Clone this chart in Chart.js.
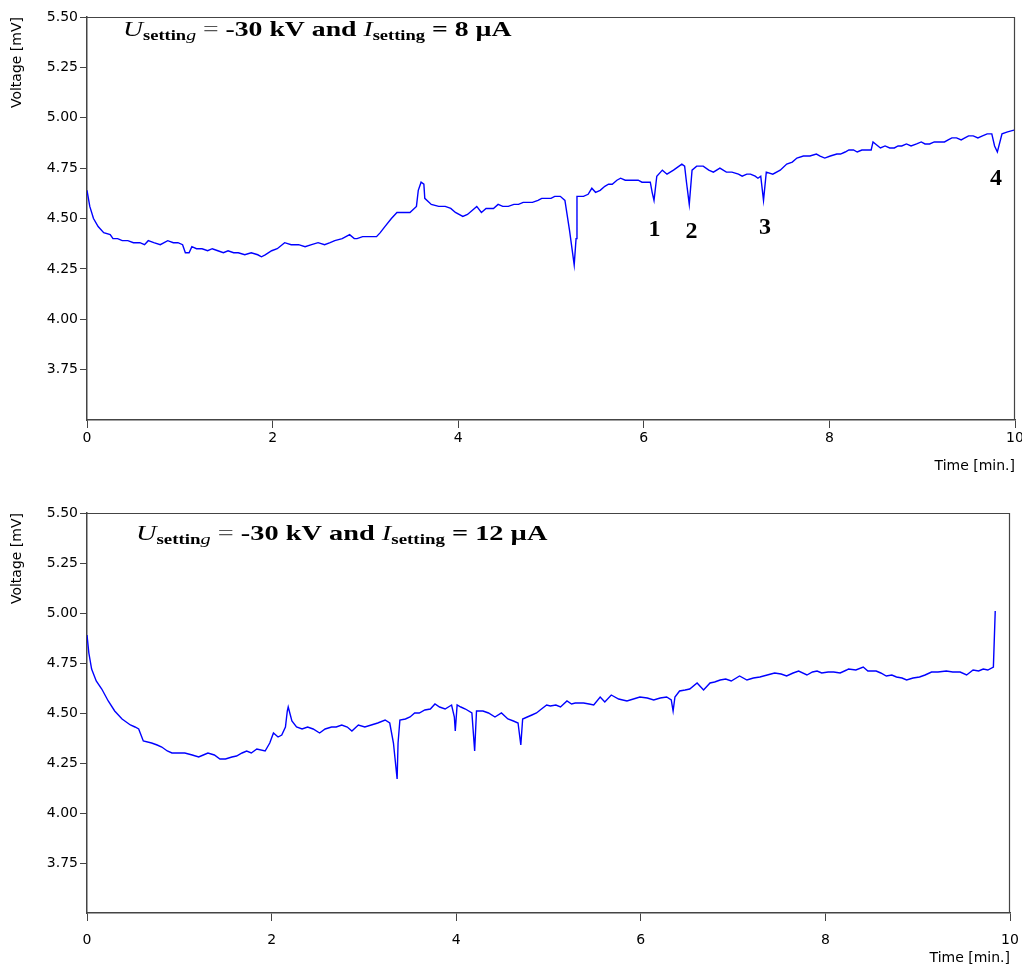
<!DOCTYPE html>
<html>
<head>
<meta charset="utf-8">
<script src="https://cdn.jsdelivr.net/npm/chart.js@4.4.0/dist/chart.umd.min.js"></script>
<style>
    html, body { margin: 0; padding: 0; background: #fff; }
    .box { position: absolute; left: 0; width: 1022px; }
    #top { top: 0; height: 483px; }
    #bot { top: 483px; height: 484px; }
</style>
</head>
<body>
<div class="box" id="top"><canvas id="c1"></canvas></div>
<div class="box" id="bot"><canvas id="c2"></canvas></div>
<script>
// time [min.] and voltage [mV], one row per minute
const time8 = [
    0.00, 0.03, 0.07, 0.12, 0.18, 0.25, 0.28, 0.33, 0.38, 0.44, 0.50, 0.57, 0.62, 0.66, 0.72, 0.79, 0.87, 0.93, 0.98,
    1.03, 1.06, 1.10, 1.13, 1.18, 1.24, 1.30, 1.35, 1.41, 1.47, 1.52, 1.58, 1.63, 1.70, 1.77, 1.84, 1.88, 1.92, 1.99,
    2.05, 2.13, 2.20, 2.28, 2.35, 2.42, 2.49, 2.56, 2.62, 2.67, 2.75, 2.83, 2.88, 2.91, 2.97,
    3.03, 3.12, 3.16, 3.21, 3.28, 3.34, 3.41, 3.48, 3.55, 3.57, 3.60, 3.63, 3.64, 3.71, 3.79, 3.86, 3.92, 3.97,
    4.05, 4.10, 4.15, 4.20, 4.25, 4.30, 4.38, 4.43, 4.48, 4.54, 4.60, 4.65, 4.70, 4.75, 4.80, 4.86, 4.90, 4.95,
    5.00, 5.04, 5.10, 5.15, 5.20, 5.25, 5.27, 5.28, 5.35, 5.40, 5.44, 5.48, 5.53, 5.58, 5.62, 5.66, 5.71, 5.75, 5.80, 5.85, 5.89, 5.94, 5.98,
    6.02, 6.07, 6.09, 6.11, 6.14, 6.20, 6.25, 6.32, 6.41, 6.44, 6.46, 6.49, 6.52, 6.57, 6.64, 6.70, 6.75, 6.82, 6.89, 6.95,
    7.02, 7.06, 7.11, 7.15, 7.20, 7.23, 7.26, 7.29, 7.32, 7.39, 7.47, 7.54, 7.60, 7.65, 7.72, 7.79, 7.86, 7.90, 7.95,
    8.01, 8.08, 8.12, 8.17, 8.21, 8.26, 8.30, 8.35, 8.40, 8.45, 8.47, 8.55, 8.60, 8.65, 8.70, 8.74, 8.78, 8.83, 8.88, 8.94, 8.99,
    9.03, 9.08, 9.13, 9.19, 9.24, 9.28, 9.32, 9.37, 9.42, 9.46, 9.50, 9.55, 9.60, 9.65, 9.70, 9.75, 9.78, 9.81, 9.86, 9.92, 10.0];
const volt8 = [
    4.64, 4.56, 4.50, 4.46, 4.43, 4.42, 4.40, 4.40, 4.39, 4.39, 4.38, 4.38, 4.37, 4.39, 4.38, 4.37, 4.39, 4.38, 4.38,
    4.37, 4.33, 4.33, 4.36, 4.35, 4.35, 4.34, 4.35, 4.34, 4.33, 4.34, 4.33, 4.33, 4.32, 4.33, 4.32, 4.31, 4.32, 4.34,
    4.35, 4.38, 4.37, 4.37, 4.36, 4.37, 4.38, 4.37, 4.38, 4.39, 4.40, 4.42, 4.40, 4.40, 4.41,
    4.41, 4.41, 4.43, 4.46, 4.50, 4.53, 4.53, 4.53, 4.56, 4.64, 4.68, 4.67, 4.60, 4.57, 4.56, 4.56, 4.55, 4.53,
    4.51, 4.52, 4.54, 4.56, 4.53, 4.55, 4.55, 4.57, 4.56, 4.56, 4.57, 4.57, 4.58, 4.58, 4.58, 4.59, 4.60, 4.60,
    4.60, 4.61, 4.61, 4.59, 4.44, 4.27, 4.40, 4.61, 4.61, 4.62, 4.65, 4.63, 4.64, 4.66, 4.67, 4.67, 4.69, 4.70, 4.69, 4.69, 4.69, 4.69, 4.68,
    4.68, 4.68, 4.63, 4.59, 4.71, 4.74, 4.72, 4.74, 4.77, 4.76, 4.68, 4.57, 4.74, 4.76, 4.76, 4.74, 4.73, 4.75, 4.73, 4.73,
    4.72, 4.71, 4.72, 4.72, 4.71, 4.70, 4.71, 4.59, 4.73, 4.72, 4.74, 4.77, 4.78, 4.80, 4.81, 4.81, 4.82, 4.81, 4.80,
    4.81, 4.82, 4.82, 4.83, 4.84, 4.84, 4.83, 4.84, 4.84, 4.84, 4.88, 4.85, 4.86, 4.85, 4.85, 4.86, 4.86, 4.87, 4.86, 4.87, 4.88,
    4.87, 4.87, 4.88, 4.88, 4.88, 4.89, 4.90, 4.90, 4.89, 4.90, 4.91, 4.91, 4.90, 4.91, 4.92, 4.92, 4.86, 4.83, 4.92, 4.93, 4.94];

const time12 = [
    0.00, 0.02, 0.05, 0.10, 0.16, 0.23, 0.30, 0.38, 0.47, 0.52, 0.56, 0.61, 0.70, 0.76, 0.81, 0.87, 0.92,
    1.06, 1.14, 1.21, 1.26, 1.31, 1.38, 1.44, 1.50, 1.57, 1.62, 1.68, 1.73, 1.78, 1.84, 1.93, 1.98,
    2.02, 2.07, 2.11, 2.15, 2.17, 2.18, 2.22, 2.27, 2.33, 2.39, 2.45, 2.52, 2.58, 2.65, 2.70, 2.76, 2.82, 2.87, 2.94,
    3.01, 3.08, 3.15, 3.23, 3.28, 3.32, 3.36, 3.37, 3.39, 3.45, 3.50, 3.55, 3.60, 3.66, 3.72, 3.77, 3.82, 3.88, 3.95, 3.98, 3.99,
    4.01, 4.05, 4.10, 4.17, 4.20, 4.22, 4.29, 4.35, 4.42, 4.49, 4.56, 4.62, 4.67, 4.70, 4.72, 4.77, 4.82, 4.87, 4.91, 4.98,
    5.02, 5.08, 5.13, 5.20, 5.25, 5.29, 5.38, 5.44, 5.49, 5.56, 5.61, 5.68, 5.76, 5.85, 5.92, 5.99,
    6.07, 6.14, 6.21, 6.28, 6.33, 6.35, 6.37, 6.42, 6.48, 6.53, 6.61, 6.68, 6.75, 6.80, 6.86, 6.92, 6.98,
    7.07, 7.15, 7.22, 7.29, 7.37, 7.45, 7.52, 7.58, 7.65, 7.71, 7.80, 7.86, 7.91, 7.96,
    8.03, 8.09, 8.16, 8.23, 8.25, 8.33, 8.41, 8.46, 8.55, 8.60, 8.66, 8.72, 8.77, 8.83, 8.88, 8.95,
    9.02, 9.08, 9.15, 9.22, 9.31, 9.38, 9.46, 9.53, 9.60, 9.66, 9.71, 9.76, 9.82, 9.84];
const volt12 = [
    4.89, 4.80, 4.72, 4.66, 4.62, 4.56, 4.51, 4.47, 4.44, 4.43, 4.42, 4.36, 4.35, 4.34, 4.33, 4.31, 4.30,
    4.30, 4.29, 4.28, 4.29, 4.30, 4.29, 4.27, 4.27, 4.28, 4.285, 4.30, 4.31, 4.30, 4.32, 4.31, 4.35,
    4.40, 4.38, 4.39, 4.43, 4.51, 4.53, 4.46, 4.43, 4.42, 4.43, 4.42, 4.40, 4.42, 4.43, 4.43, 4.44, 4.43, 4.41, 4.44,
    4.43, 4.44, 4.45, 4.465, 4.45, 4.35, 4.17, 4.35, 4.465, 4.47, 4.48, 4.50, 4.50, 4.515, 4.52, 4.545, 4.53, 4.52, 4.54, 4.48, 4.41,
    4.54, 4.53, 4.52, 4.50, 4.31, 4.51, 4.51, 4.50, 4.48, 4.50, 4.47, 4.46, 4.45, 4.34, 4.47, 4.48, 4.49, 4.50, 4.515, 4.54,
    4.535, 4.54, 4.53, 4.56, 4.545, 4.55, 4.55, 4.545, 4.54, 4.58, 4.555, 4.59, 4.57, 4.56, 4.57, 4.58,
    4.575, 4.565, 4.575, 4.58, 4.565, 4.51, 4.58, 4.61, 4.615, 4.62, 4.65, 4.615, 4.65, 4.655, 4.665, 4.67, 4.66,
    4.685, 4.665, 4.675, 4.68, 4.69, 4.70, 4.695, 4.685, 4.70, 4.71, 4.69, 4.705, 4.71, 4.70,
    4.705, 4.705, 4.70, 4.715, 4.72, 4.715, 4.73, 4.71, 4.71, 4.70, 4.685, 4.69, 4.68, 4.675, 4.665, 4.675,
    4.68, 4.69, 4.705, 4.705, 4.71, 4.705, 4.705, 4.69, 4.715, 4.71, 4.72, 4.715, 4.73, 5.01];

const yTicks = [3.75, 4.00, 4.25, 4.50, 4.75, 5.00, 5.25, 5.50];
const xTicks = [0, 2, 4, 6, 8, 10];

// numbered dips in the first run: label, time, voltage of the label baseline
const dipLabels = ["1", "2", "3", "4"];
const dipTime = [6.115, 6.514, 7.306, 9.795];
const dipVolt = [4.411, 4.405, 4.424, 4.665];

const title8 = [
    { text: "U", font: "italic 21px 'Liberation Serif'", dy: 0 },
    { text: "settin", font: "bold 14px 'Liberation Serif'", dy: 4 },
    { text: "g", font: "italic 15px 'Liberation Serif'", dy: 4 },
    { text: " = ", font: "21px 'Liberation Serif'", dy: 0, color: "#555" },
    { text: "-30 kV and ", font: "bold 21px 'Liberation Serif'", dy: 0 },
    { text: "I", font: "italic 21px 'Liberation Serif'", dy: 0 },
    { text: "setting", font: "bold 14px 'Liberation Serif'", dy: 4 },
    { text: " = 8 \u00b5A", font: "bold 21px 'Liberation Serif'", dy: 0 },
];
const title12 = title8.slice(0, 7).concat([
    { text: " = 12 \u00b5A", font: "bold 21px 'Liberation Serif'", dy: 0 },
]);

const AXIS = "#444";
const TICK_FONT = { family: "'DejaVu Sans'", size: 14 };

const framePlugin = {
    id: "frame",
    afterDraw(chart) {
        const { ctx, chartArea: a } = chart;
        ctx.save();
        ctx.strokeStyle = AXIS;
        ctx.lineWidth = 1.2;
        ctx.beginPath();
        ctx.moveTo(a.left, a.top + 0.5);
        ctx.lineTo(a.right, a.top + 0.5);
        ctx.moveTo(a.right - 0.5, a.top);
        ctx.lineTo(a.right - 0.5, a.bottom);
        ctx.stroke();
        ctx.restore();
    },
};

const textPlugin = {
    id: "richText",
    afterDraw(chart, args, opts) {
        const { ctx, chartArea: a } = chart;
        ctx.save();
        // heading, stretched sideways like the original
        ctx.translate(a.left + opts.dx, a.top + opts.dy);
        ctx.scale(opts.stretch, 1);
        ctx.textBaseline = "alphabetic";
        let x = 0;
        for (const part of opts.parts) {
            ctx.font = part.font;
            ctx.fillStyle = part.color || "#000";
            ctx.fillText(part.text, x, part.dy);
            x += ctx.measureText(part.text).width;
        }
        ctx.restore();

        if (opts.marks) {
            const xs = chart.scales.x, ys = chart.scales.y;
            ctx.save();
            ctx.font = "bold 24px 'Liberation Serif'";
            ctx.fillStyle = "#000";
            ctx.textAlign = "center";
            opts.marks.labels.forEach((lab, i) => {
                ctx.fillText(lab, xs.getPixelForValue(opts.marks.t[i]), ys.getPixelForValue(opts.marks.v[i]));
            });
            ctx.restore();
        }
    },
};

function makeChart(id, t, v, cfg) {
    return new Chart(document.getElementById(id), {
        type: "line",
        data: {
            datasets: [{
                data: t.map((x, i) => ({ x, y: v[i] })),
                borderColor: "#0000ff",
                borderWidth: 1.4,
                pointRadius: 0,
                tension: 0,
                fill: false,
            }],
        },
        options: {
            responsive: true,
            maintainAspectRatio: false,
            animation: false,
            layout: { padding: { top: cfg.top, right: cfg.right, left: 0, bottom: 0 } },
            plugins: {
                legend: { display: false },
                tooltip: { enabled: false },
                richText: { parts: cfg.title, dx: cfg.titleDx, dy: cfg.titleDy, stretch: cfg.stretch, marks: cfg.marks },
            },
            scales: {
                x: {
                    type: "linear",
                    min: 0,
                    max: 10,
                    afterBuildTicks: (s) => { s.ticks = xTicks.map((value) => ({ value })); },
                    afterFit: (s) => { s.height = cfg.xHeight; s.paddingLeft = 0; s.paddingRight = 0; },
                    border: { color: AXIS, width: 1.5 },
                    grid: { drawOnChartArea: false, drawTicks: true, tickLength: 8, color: AXIS },
                    ticks: { color: "#000", font: TICK_FONT, padding: cfg.xPad, maxRotation: 0 },
                    title: {
                        display: true,
                        text: "Time [min.]",
                        align: "end",
                        color: "#000",
                        font: TICK_FONT,
                        padding: { top: 0, bottom: cfg.xTitlePad },
                    },
                },
                y: {
                    min: 3.5,
                    max: 5.5,
                    afterBuildTicks: (s) => { s.ticks = yTicks.map((value) => ({ value })); },
                    afterFit: (s) => { s.width = 87; s.paddingTop = 0; s.paddingBottom = 0; },
                    border: { color: AXIS, width: 1.5 },
                    grid: { drawOnChartArea: false, drawTicks: true, tickLength: 7, color: AXIS },
                    ticks: {
                        color: "#000",
                        font: TICK_FONT,
                        padding: 2,
                        callback: (val) => val.toFixed(2),
                    },
                    title: {
                        display: true,
                        text: "Voltage [mV]",
                        align: "end",
                        color: "#000",
                        font: TICK_FONT,
                        padding: { top: 9, bottom: 0 },
                    },
                },
            },
        },
        plugins: [framePlugin, textPlugin],
    });
}

makeChart("c1", time8, volt8, {
    top: 17, right: 7, xHeight: 63, xPad: 2, xTitlePad: 8,
    title: title8, titleDx: 36, titleDy: 19, stretch: 1.32,
    marks: { labels: dipLabels, t: dipTime, v: dipVolt },
});
makeChart("c2", time12, volt12, {
    top: 30, right: 12, xHeight: 54, xPad: 11, xTitlePad: 0,
    title: title12, titleDx: 49, titleDy: 27, stretch: 1.35,
});
</script>
</body>
</html>
